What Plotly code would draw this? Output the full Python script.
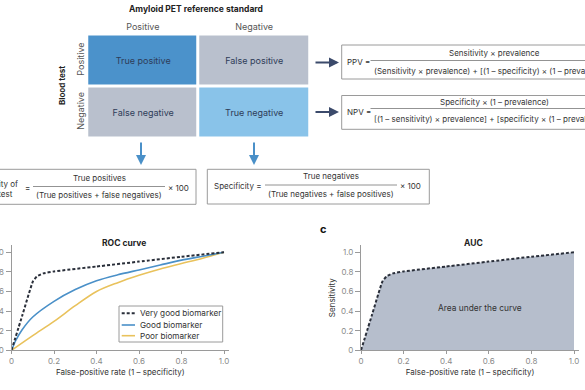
import plotly.graph_objects as go

W, H = 585, 390

# ---------------- data ----------------
matrix_cols = ["Positive", "Negative"]
matrix_rows = ["Positive", "Negative"]
matrix_labels = [["True positive", "False positive"],
                 ["False negative", "True negative"]]
matrix_class = [[0, 1], [1, 2]]

fpr_very_good = [0, 0.05, 0.10, 0.12, 0.15, 0.2, 0.4, 0.6, 0.8, 1.0]
tpr_very_good = [0, 0.35, 0.70, 0.755, 0.785, 0.805, 0.855, 0.905, 0.955, 1.0]

fpr_good = [0, 0.02, 0.05, 0.1, 0.2, 0.3, 0.4, 0.5, 0.6, 0.7, 0.8, 0.9, 1.0]
tpr_good = [0, 0.10, 0.21, 0.34, 0.50, 0.62, 0.71, 0.77, 0.82, 0.87, 0.92, 0.96, 1.0]

fpr_poor = [0, 0.1, 0.2, 0.3, 0.4, 0.5, 0.6, 0.7, 0.8, 0.9, 1.0]
tpr_poor = [0, 0.15, 0.295, 0.455, 0.60, 0.69, 0.765, 0.83, 0.885, 0.94, 1.0]

series_names = ["Very good biomarker", "Good biomarker", "Poor biomarker"]
tick_vals = [0, 0.2, 0.4, 0.6, 0.8, 1.0]
tick_text = ["0", "0.2", "0.4", "0.6", "0.8", "1.0"]

# ---------------- style ----------------
FONT = "Inter"
C_TP = "#4b92cb"
C_GRAY = "#b9c0cd"
C_TN = "#89c3e9"
C_BLUE = "#4a90c8"
C_YEL = "#e9c25c"
C_DASH = "#2a2f3a"
C_FILL = "#b6becc"
C_TXT = "#333333"
C_CELL = "#2e3c58"
C_AX = "#9a9a9a"
C_TICK = "#8a8a8a"
C_NAVY = "#3b4a6b"
FS = 8  # formula font size


def PX(x):
    return x / W


def PY(y):
    return 1 - y / H


fig = go.Figure()

# ROC curves
fig.add_trace(go.Scatter(x=fpr_poor, y=tpr_poor, mode="lines", name=series_names[2],
                         line=dict(color=C_YEL, width=1.6, shape="spline", smoothing=0.9),
                         showlegend=False, xaxis="x", yaxis="y"))
fig.add_trace(go.Scatter(x=fpr_good, y=tpr_good, mode="lines", name=series_names[1],
                         line=dict(color=C_BLUE, width=1.6, shape="spline", smoothing=0.8),
                         showlegend=False, xaxis="x", yaxis="y"))
fig.add_trace(go.Scatter(x=fpr_very_good, y=tpr_very_good, mode="lines", name=series_names[0],
                         line=dict(color=C_DASH, width=2, dash="3px,2px", shape="spline", smoothing=0.3),
                         showlegend=False, xaxis="x", yaxis="y"))

# AUC
fig.add_trace(go.Scatter(x=fpr_very_good, y=tpr_very_good, mode="lines", fill="tozeroy",
                         fillcolor=C_FILL, line=dict(width=0, shape="spline", smoothing=0.3),
                         showlegend=False, hoverinfo="skip", xaxis="x2", yaxis="y2"))
fig.add_trace(go.Scatter(x=fpr_very_good, y=tpr_very_good, mode="lines",
                         line=dict(color=C_DASH, width=2, dash="3px,2px", shape="spline", smoothing=0.3),
                         showlegend=False, xaxis="x2", yaxis="y2"))

# Confusion matrix
fig.add_trace(go.Heatmap(z=matrix_class, x=matrix_cols, y=matrix_rows, text=matrix_labels,
                         texttemplate="%{text}", textfont=dict(family=FONT, size=9, color=C_CELL),
                         colorscale=[[0, C_TP], [0.5, C_GRAY], [1, C_TN]], zmin=0, zmax=2,
                         showscale=False, xgap=3, ygap=3, hoverinfo="skip",
                         xaxis="x3", yaxis="y3"))

axis_common = dict(showgrid=False, zeroline=False, showline=True, linecolor=C_AX, linewidth=1,
                   ticks="outside", tickcolor=C_AX, tickwidth=1, automargin=False,
                   tickvals=tick_vals, ticktext=tick_text,
                   tickfont=dict(family=FONT, size=8, color=C_TICK))

xr1 = (229 - 11.5) / 212.5
xr2 = (579.3 - 361) / 213
yr = (350.3 - 245) / 98

fig.update_layout(
    template="none",
    width=W, height=H, autosize=False,
    margin=dict(l=0, r=0, t=0, b=0, pad=0),
    paper_bgcolor="white", plot_bgcolor="rgba(0,0,0,0)",
    font=dict(family=FONT, color=C_TXT),
    showlegend=False,
    xaxis=dict(axis_common, domain=[PX(11.5), PX(229)], range=[0, xr1], anchor="y", ticklen=3,
               title=dict(text="False-positive rate (1 – specificity)", standoff=4,
                          font=dict(family=FONT, size=8, color=C_TXT))),
    yaxis=dict(axis_common, domain=[PY(350.3), PY(245)], range=[0, yr], anchor="x", ticklen=5),
    xaxis2=dict(axis_common, domain=[PX(361), PX(579.3)], range=[0, xr2], anchor="y2", ticklen=3,
                title=dict(text="False-positive rate (1 – specificity)", standoff=4,
                           font=dict(family=FONT, size=8, color=C_TXT))),
    yaxis2=dict(axis_common, domain=[PY(350.3), PY(245)], range=[0, yr], anchor="x2", ticklen=5,
                title=dict(text="Sensitivity", standoff=4, font=dict(family=FONT, size=8, color=C_TXT))),
    xaxis3=dict(domain=[PX(87.2), PX(309.8)], anchor="y3", side="top", showgrid=False,
                zeroline=False, showline=False, ticks="", ticklabelstandoff=2, automargin=False,
                tickfont=dict(family=FONT, size=9, color="#555555")),
    yaxis3=dict(domain=[PY(138.2), PY(34.5)], anchor="x3", autorange="reversed", showgrid=False,
                zeroline=False, showline=False, ticks="", tickangle=-90, ticklabelstandoff=0,
                automargin=False, tickfont=dict(family=FONT, size=9, color="#555555")),
)

shapes = []
annotations = []


def rect(x0, y0, x1, y1):
    shapes.append(dict(type="rect", xref="paper", yref="paper", x0=PX(x0), x1=PX(x1),
                       y0=PY(y1), y1=PY(y0), line=dict(color=C_AX, width=1), layer="above"))


def hline(x0, x1, y, color="#777777", width=0.8):
    shapes.append(dict(type="line", xref="paper", yref="paper", x0=PX(x0), x1=PX(x1),
                       y0=PY(y), y1=PY(y), line=dict(color=color, width=width)))


def text(x, y, s, size=FS, color=C_TXT, xanchor="center", bold=False, angle=0, align="center"):
    if bold:
        s = "<b>" + s + "</b>"
    annotations.append(dict(x=PX(x), y=PY(y), xref="paper", yref="paper", text=s, showarrow=False,
                            xanchor=xanchor, yanchor="middle", textangle=angle, align=align,
                            font=dict(family=FONT, size=size, color=color)))


def arrow(x, y, ax, ay, color, width=2):
    annotations.append(dict(x=PX(x), y=PY(y), xref="paper", yref="paper", text="", showarrow=True,
                            ax=ax, ay=ay, arrowhead=2, arrowsize=1, arrowwidth=width,
                            arrowcolor=color, standoff=0))


# Matrix headers
text(196, 9, "Amyloid PET reference standard", size=8.5, color="#222222", bold=True)
text(62, 86, "Blood test", size=8, color="#222222", bold=True, angle=-90)

# Arrows
arrow(339, 62.5, -25, 0, C_NAVY)
arrow(339, 112, -25, 0, C_NAVY)
arrow(141, 165, 0, -24, C_BLUE)
arrow(254, 165, 0, -24, C_BLUE)

# PPV box
rect(341.7, 45, 660, 79)
text(345, 61.5, "PPV =", xanchor="left")
text(494, 53, "Sensitivity × prevalence")
hline(370.5, 625, 60.5)
text(372, 70.5, "(Sensitivity × prevalence) + [(1 – specificity) × (1 – prevalence)]", xanchor="left")

# NPV box
rect(341.7, 95.5, 660, 129.3)
text(345, 111.5, "NPV =", xanchor="left")
text(494, 102, "Specificity × (1 – prevalence)")
hline(370.5, 625, 108.5)
text(372, 119, "[(1 – sensitivity) × prevalence] + [specificity × (1 – prevalence)]", xanchor="left")

# Sensitivity box
rect(-80, 169.3, 196, 204.3)
text(20, 188.5, "Sensitivity of<br>blood test", xanchor="right", align="center")
text(27, 187.5, "=")
text(99, 178, "True positives")
hline(33, 165, 186.5)
text(99, 195, "(True positives + false negatives)")
text(178.5, 187.5, "× 100")

# Specificity box
rect(207.3, 169.3, 429.3, 204)
text(211.7, 185.5, "Specificity =", xanchor="left")
text(330.5, 176.5, "True negatives")
hline(265, 397, 185)
text(330.5, 193.5, "(True negatives + false positives)")
text(410.5, 185.5, "× 100")

# ROC panel
text(124, 243, "ROC curve", size=8.5, color="#222222", bold=True)
shapes.append(dict(type="rect", xref="paper", yref="paper", x0=PX(119), x1=PX(222.7),
                   y0=PY(342), y1=PY(306), line=dict(color=C_AX, width=1), fillcolor="white",
                   layer="above"))
legend_rows = [313.3, 325, 335.7]
legend_styles = [dict(color=C_DASH, width=2, dash="3px,2px"),
                 dict(color=C_BLUE, width=1.6), dict(color=C_YEL, width=1.6)]
for name, yy, st in zip(series_names, legend_rows, legend_styles):
    shapes.append(dict(type="line", xref="paper", yref="paper", x0=PX(121.7), x1=PX(135),
                       y0=PY(yy), y1=PY(yy), line=st, layer="above"))
    text(138.3, yy, name, size=8.2, color=C_TXT, xanchor="left")

# AUC panel
text(318, 229, "c", size=11, color="#111111", bold=True, xanchor="left")
text(473, 243, "AUC", size=8.5, color="#222222", bold=True)
annotations.append(dict(x=0.56, y=0.43, xref="x2", yref="y2", text="Area under the curve",
                        showarrow=False, font=dict(family=FONT, size=8.4, color=C_TXT)))

fig.update_layout(shapes=shapes, annotations=annotations)
# Remove the browser's default 8px page margin so the figure fills the window.
fig.write_html("out.html", config={"displayModeBar": False},
               post_script="document.body.style.margin='0px';")
